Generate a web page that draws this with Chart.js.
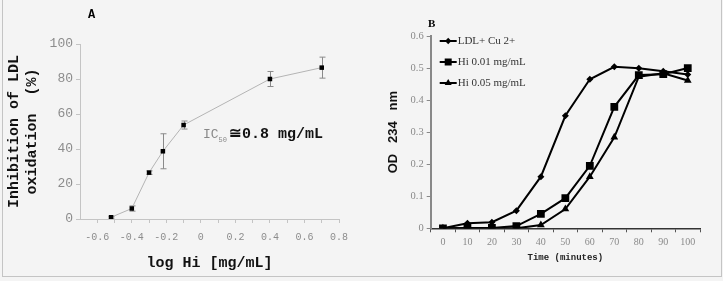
<!DOCTYPE html>
<html>
<head>
<meta charset="utf-8">
<script src="https://cdn.jsdelivr.net/npm/chart.js@4"></script>
<style>
  body { margin: 0; background: #f4f4f4; }
  #frame { position: absolute; left: 2px; top: 0; width: 718px; height: 276px; border: 1px solid #c4c4c4; border-top: none; }
  #wrapA { position: absolute; left: 0; top: 0; }
  #wrapB { position: absolute; left: 360px; top: 0; }
  .lbl { position: absolute; white-space: nowrap; }
  #labA { left: 88px; top: 8px; font: bold 12px "Liberation Mono"; }
  #labB { left: 428px; top: 17px; font: bold 11px "Liberation Serif"; }
  #ic50 { left: 203px; top: 124px; font: bold 15px "Liberation Mono"; color: #111; }
  #ic50 .ic { font-weight: normal; font-size: 13px; color: #888; }
  #ic50 sub { font-weight: normal; font-size: 7px; color: #888; margin-right: 2px; }
</style>
</head>
<body>
<div id="frame"></div>
<div id="wrapA"><canvas id="chartA" width="360" height="281"></canvas></div>
<div id="wrapB"><canvas id="chartB" width="363" height="281"></canvas></div>
<div class="lbl" id="labA">A</div>
<div class="lbl" id="labB">B</div>
<div class="lbl" id="ic50"><span class="ic">IC</span><sub>50</sub>&#8773;0.8 mg/mL</div>
<script>
// panel A: inhibition vs log dose
const aLogDose = [-0.52, -0.40, -0.30, -0.22, -0.10, 0.40, 0.70];
const aInhibition = [1, 6, 26.5, 38.7, 53.7, 80, 86.5];
const aError = [0.5, 1.5, 1, 10, 2.3, 4.3, 6];
const aXTicks = [-0.6, -0.4, -0.2, 0, 0.2, 0.4, 0.6, 0.8];

// panel B: OD 234 nm over time
const bTime = ['0', '10', '20', '30', '40', '50', '60', '70', '80', '90', '100'];
const bLdlCu = [0, 0.016, 0.019, 0.055, 0.161, 0.351, 0.465, 0.504, 0.499, 0.49, 0.48];
const bHi001 = [0, 0.001, 0.001, 0.007, 0.045, 0.094, 0.195, 0.379, 0.478, 0.481, 0.50];
const bHi005 = [0, 0, 0, 0, 0.010, 0.060, 0.161, 0.284, 0.473, 0.484, 0.461];
const bLabels = ['LDL+ Cu 2+', 'Hi 0.01 mg/mL', 'Hi 0.05 mg/mL'];

const errorBars = {
  id: 'errorBars',
  beforeDatasetsDraw(chart) {
    const {ctx, scales: {x, y}} = chart;
    ctx.save();
    ctx.strokeStyle = '#8a8a8a';
    ctx.lineWidth = 1;
    aLogDose.forEach((d, i) => {
      const px = Math.round(x.getPixelForValue(d)) + 0.5;
      const top = y.getPixelForValue(aInhibition[i] + aError[i]);
      const bot = y.getPixelForValue(aInhibition[i] - aError[i]);
      ctx.beginPath();
      ctx.moveTo(px, top); ctx.lineTo(px, bot);
      ctx.moveTo(px - 3, top); ctx.lineTo(px + 3, top);
      ctx.moveTo(px - 3, bot); ctx.lineTo(px + 3, bot);
      ctx.stroke();
    });
    ctx.restore();
  }
};

const monoGray = (size) => ({family: 'Liberation Mono', size: size});

new Chart(document.getElementById('chartA'), {
  type: 'line',
  data: {
    datasets: [{
      data: aLogDose.map((d, i) => ({x: d, y: aInhibition[i]})),
      borderColor: '#b4b4b4',
      borderWidth: 1,
      pointStyle: 'rect',
      pointRadius: 3.2,
      pointBackgroundColor: '#000',
      pointBorderColor: '#000',
      pointBorderWidth: 0
    }]
  },
  options: {
    responsive: false,
    animation: false,
    layout: {padding: {top: 44, right: 21, bottom: 0, left: 0}},
    plugins: {legend: {display: false}, tooltip: {enabled: false}},
    scales: {
      x: {
        type: 'linear',
        min: -0.7,
        max: 0.8,
        afterBuildTicks: s => {
          const t = [];
          aXTicks.forEach((v, i) => {
            t.push({value: v});
            if (i < aXTicks.length - 1) t.push({value: (v + aXTicks[i + 1]) / 2});
          });
          s.ticks = t;
        },
        afterFit: s => { s.height = 62; },
        ticks: {
          autoSkip: false,
          maxRotation: 0,
          padding: 8,
          color: '#8c8c8c',
          font: monoGray(10),
          callback: v => {
            const hit = aXTicks.find(t => Math.abs(t - v) < 1e-6);
            if (hit === undefined) return '';
            return hit === 0 ? '0' : hit.toFixed(1);
          }
        },
        grid: {drawOnChartArea: false, tickLength: 4, color: '#c4c4c4'},
        border: {color: '#c4c4c4'},
        title: {
          display: true,
          text: 'log Hi [mg/mL]',
          color: '#111',
          font: {family: 'Liberation Mono', size: 15, weight: 'bold'},
          padding: {top: 0, bottom: 9}
        }
      },
      y: {
        min: 0,
        max: 100,
        afterFit: s => { s.width = 80; },
        ticks: {
          stepSize: 10,
          padding: 3,
          color: '#8c8c8c',
          font: monoGray(13),
          callback: v => (v % 20 === 0 ? v : '')
        },
        grid: {drawOnChartArea: false, tickLength: 4, color: '#c4c4c4'},
        border: {color: '#c4c4c4'},
        title: {
          display: true,
          text: ['Inhibition of LDL', 'oxidation  (%)'],
          color: '#111',
          font: {family: 'Liberation Mono', size: 15, weight: 'bold', lineHeight: 1.15},
          padding: {top: 6, bottom: 0}
        }
      }
    }
  },
  plugins: [errorBars]
});

const bStyles = [
  {pointStyle: 'rectRot', radius: 3.5},
  {pointStyle: 'rect', radius: 5.5},
  {pointStyle: 'triangle', radius: 4.5}
];

const insideLegend = {
  id: 'insideLegend',
  afterDraw(chart) {
    const {ctx, chartArea} = chart;
    ctx.save();
    ctx.font = '11px "Liberation Serif"';
    ctx.textBaseline = 'middle';
    bLabels.forEach((lab, i) => {
      const y = chartArea.top + 5 + i * 21;
      const x0 = chartArea.left + 9;
      ctx.strokeStyle = '#000';
      ctx.fillStyle = '#000';
      ctx.lineWidth = 2;
      ctx.beginPath();
      ctx.moveTo(x0, y); ctx.lineTo(x0 + 17, y);
      ctx.stroke();
      Chart.helpers.drawPoint(ctx, {pointStyle: bStyles[i].pointStyle, radius: bStyles[i].radius * 0.9, rotation: 0, borderWidth: 0}, x0 + 8.5, y);
      ctx.fillStyle = '#333';
      ctx.fillText(lab, chartArea.left + 27, y);
    });
    ctx.restore();
  }
};

const bSeries = [bLdlCu, bHi001, bHi005];

new Chart(document.getElementById('chartB'), {
  type: 'line',
  data: {
    labels: bTime,
    datasets: bSeries.map((s, i) => ({
      label: bLabels[i],
      data: s,
      borderColor: '#000',
      borderWidth: 2,
      pointStyle: bStyles[i].pointStyle,
      pointRadius: bStyles[i].radius,
      pointBackgroundColor: '#000',
      pointBorderColor: '#000',
      pointBorderWidth: 0
    }))
  },
  options: {
    responsive: false,
    animation: false,
    layout: {padding: {top: 36, right: 23, bottom: 0, left: 0}},
    plugins: {legend: {display: false}, tooltip: {enabled: false}},
    scales: {
      x: {
        offset: true,
        afterFit: s => { s.height = 52.7; },
        ticks: {
          autoSkip: false,
          maxRotation: 0,
          padding: 4,
          color: '#8a8a8a',
          font: {family: 'Liberation Serif', size: 10}
        },
        grid: {offset: true, drawOnChartArea: false, tickLength: 4, color: '#555'},
        border: {color: '#333', width: 1.5},
        title: {
          display: true,
          text: 'Time (minutes)',
          color: '#222',
          font: {family: 'Liberation Mono', size: 9, weight: 'bold'},
          padding: {top: 0, bottom: 17.6}
        }
      },
      y: {
        min: 0,
        max: 0.6,
        afterFit: s => { s.width = 70.7; },
        ticks: {
          stepSize: 0.1,
          padding: 3,
          color: '#8a8a8a',
          font: {family: 'Liberation Serif', size: 10.5},
          callback: v => (v === 0 ? '0' : v.toFixed(1))
        },
        grid: {drawOnChartArea: false, tickLength: 4, color: '#888'},
        border: {color: '#888', width: 2},
        title: {
          display: true,
          text: 'OD   234   nm',
          color: '#111',
          font: {family: 'Liberation Sans', size: 13, weight: 'bold'},
          padding: {top: 25.5, bottom: 0}
        }
      }
    }
  },
  plugins: [insideLegend]
});
</script>
</body>
</html>
